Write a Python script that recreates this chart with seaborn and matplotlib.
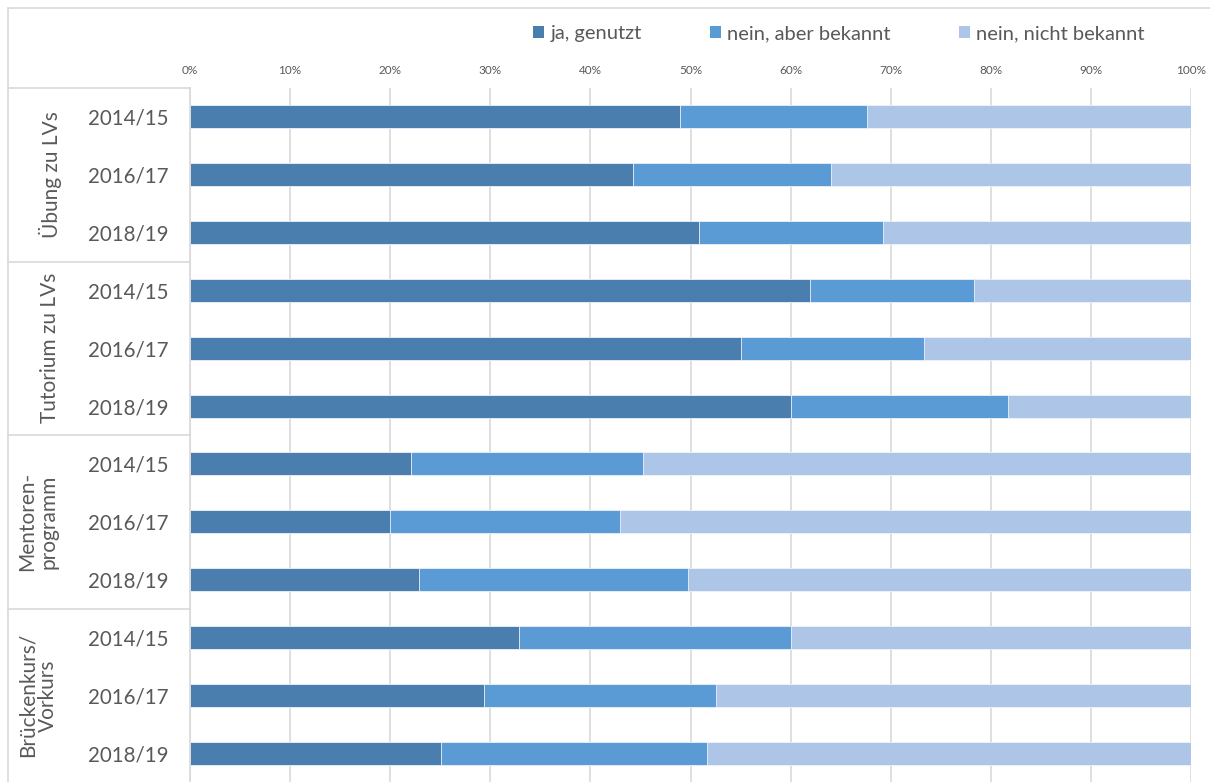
import matplotlib
matplotlib.use("Agg")
import matplotlib.pyplot as plt
import matplotlib.transforms as mtransforms
from matplotlib.lines import Line2D
import numpy as np
import pandas as pd
import seaborn as sns

# ---- data ----
groups = ["Übung zu LVs", "Tutorium zu LVs", "Mentoren-\nprogramm", "Brückenkurs/\nVorkurs"]
years = ["2014/15", "2016/17", "2018/19"]
series_names = ["ja, genutzt", "nein, aber bekannt", "nein, nicht bekannt"]
ja_genutzt = [49.0, 44.3, 50.8, 61.9, 55.0, 60.0, 22.1, 20.0, 22.9, 32.9, 29.4, 25.1]
nein_bekannt = [18.6, 19.7, 18.4, 16.4, 18.3, 21.7, 23.2, 23.0, 26.9, 27.1, 23.1, 26.5]
nein_nicht_bekannt = [32.4, 36.0, 30.8, 21.7, 26.7, 18.3, 54.7, 57.0, 50.2, 40.0, 47.5, 48.4]
x_ticks = [0, 10, 20, 30, 40, 50, 60, 70, 80, 90, 100]
x_tick_labels = [f"{t}%" for t in x_ticks]

colors = ["#4a7eae", "#5b9bd5", "#adc5e6"]
text_color = "#595959"
grid_color = "#d9d9d9"

keys = [f"{g}|{y}" for g in groups for y in years]
df = pd.DataFrame({
    "key": keys,
    "ja": ja_genutzt,
    "bekannt": nein_bekannt,
    "nicht": nein_nicht_bekannt,
})
df["c1"] = df["ja"]
df["c2"] = df["ja"] + df["bekannt"]
df["c3"] = df["ja"] + df["bekannt"] + df["nicht"]

sns.set_theme(style="white")
plt.rcParams["font.family"] = ["Lato", "DejaVu Sans"]

W, H = 1210, 782
fig = plt.figure(figsize=(W / 100, H / 100), dpi=100)
ax_left, ax_right, ax_top, ax_bottom = 190, 1191, 88, 782
ax = fig.add_axes([ax_left / W, 1 - ax_bottom / H, (ax_right - ax_left) / W, (ax_bottom - ax_top) / H])

layers = [("c3", colors[2], series_names[2]), ("c2", colors[1], series_names[1]), ("c1", colors[0], series_names[0])]
for col, colr, name in layers:
    sns.barplot(data=df, x=col, y="key", order=keys, orient="h", color=colr, width=0.4,
                edgecolor="#eef3fa", linewidth=0.6, label=name, ax=ax, saturation=1)

handles, labels = ax.get_legend_handles_labels()
hmap = dict(zip(labels, handles))
if ax.get_legend() is not None:
    ax.get_legend().remove()

ax.set_xlim(0, 100)
ax.set_ylim(len(keys) - 0.5, -0.5)
ax.set_xlabel("")
ax.set_ylabel("")
ax.xaxis.tick_top()
ax.set_xticks(x_ticks)
ax.set_xticklabels(x_tick_labels, fontsize=8.5, color=text_color)
ax.tick_params(axis="x", length=0, pad=9)
ax.set_yticks(range(len(keys)))
ax.set_yticklabels([k.split("|")[1] for k in keys], fontsize=14.8, color=text_color)
ax.tick_params(axis="y", length=0, pad=15.5)
ax.grid(axis="x", color=grid_color, linewidth=1.2)
ax.set_axisbelow(True)
for s in ["top", "right", "bottom"]:
    ax.spines[s].set_visible(False)
ax.spines["left"].set_color(grid_color)
ax.spines["left"].set_linewidth(1.2)

# legend in series order
leg = fig.legend([hmap[n] for n in series_names], series_names, loc="center",
                 bbox_to_anchor=(839 / W, 1 - 34 / H), ncol=3, frameon=False,
                 fontsize=14.5, handlelength=0.55, handleheight=0.55, handletextpad=0.3,
                 columnspacing=3.4)
for t in leg.get_texts():
    t.set_color(text_color)
for h in leg.legend_handles:
    h.set_edgecolor("none")

# outer frame and category table lines
fig.add_artist(Line2D([8 / W, 1], [1 - 8 / H, 1 - 8 / H], color=grid_color, lw=1.2))
fig.add_artist(Line2D([8 / W, 8 / W], [0, 1 - 8 / H], color=grid_color, lw=1.2))
blend = mtransforms.blended_transform_factory(fig.transFigure, ax.transData)
for yb in [-0.5, 2.5, 5.5, 8.5]:
    ax.add_line(Line2D([8 / W, ax_left / W], [yb, yb], transform=blend, color=grid_color,
                       lw=1.2, clip_on=False))

for i, g in enumerate(groups):
    xc = 38 if "\n" in g else 50
    ax.text(xc / W, 3 * i + 1, g, transform=blend, rotation=90, ha="center", va="center",
            multialignment="center", fontsize=15, color=text_color, linespacing=1.05)

fig.savefig("out.png", dpi=100)
